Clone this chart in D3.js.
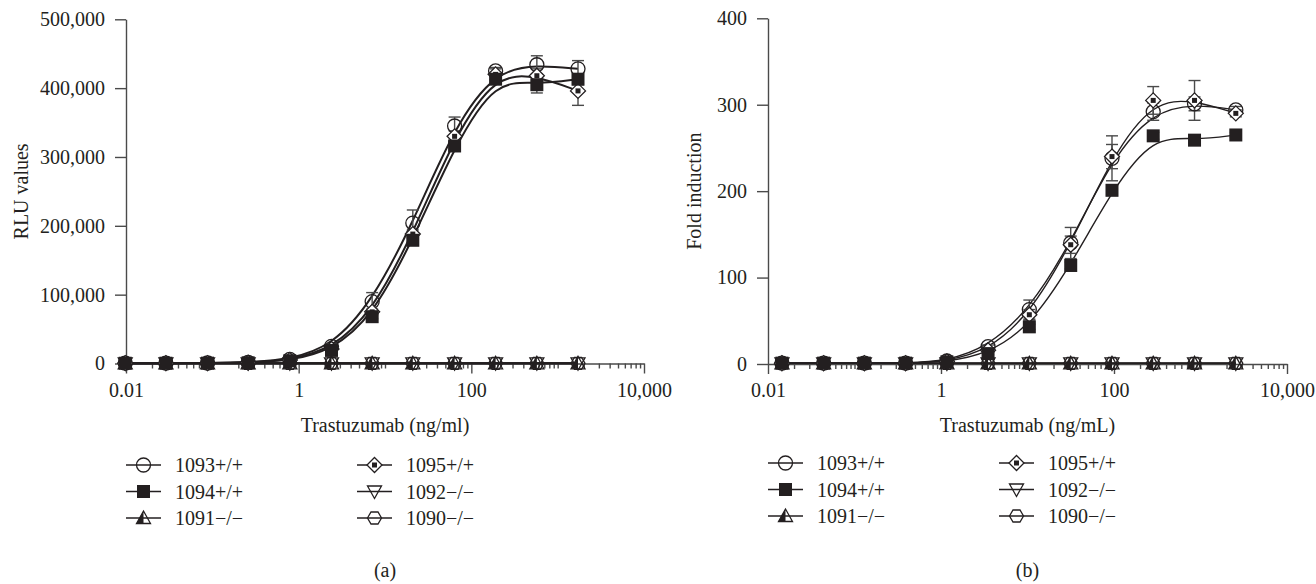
<!DOCTYPE html>
<html>
<head>
<meta charset="utf-8">
<script src="https://cdn.jsdelivr.net/npm/d3@7"></script>
<style>
  body { margin: 0; background: #fff; }
  text { font-family: "Liberation Serif", "DejaVu Serif", serif; fill: #231f20; }
</style>
</head>
<body>
<script>
// =================== Data ======================
const seriesNames = ["1093+/+", "1094+/+", "1091\u2212/\u2212", "1095+/+", "1092\u2212/\u2212", "1090\u2212/\u2212"];

// panel (a): RLU values
const concA   = [0.0098, 0.029, 0.088, 0.26, 0.79, 2.4, 7.1, 21, 64, 191, 574, 1720];
const rlu1093 = [600, 500, 700, 1500, 6000, 25000, 90000, 204000, 345000, 425000, 434000, 428000];
const rlu1094 = [400, 400, 500, 1000, 4000, 19000, 68000, 179000, 316000, 413000, 405000, 413000];
const rlu1091 = [300, 300, 300, 300, 300, 300, 300, 300, 300, 300, 300, 300];
const rlu1095 = [500, 500, 600, 1200, 5000, 21000, 75000, 188000, 330000, 420000, 418000, 396000];
const rlu1092 = [300, 300, 300, 300, 300, 300, 300, 300, 300, 300, 300, 300];
const rlu1090 = [300, 300, 300, 300, 300, 300, 300, 300, 300, 300, 300, 300];
const rluSd1093 = [0, 0, 0, 0, 1000, 3000, 13000, 19000, 13000, 5000, 13000, 12000];
const rluSd1094 = [0, 0, 0, 0, 0, 2000, 3000, 4000, 6000, 6000, 12000, 8000];
const rluSd1095 = [0, 0, 0, 0, 0, 2000, 4000, 6000, 8000, 8000, 10000, 21000];
const rluTicks = [0, 100000, 200000, 300000, 400000, 500000];

// panel (b): fold induction
const concB    = [0.0145, 0.044, 0.13, 0.39, 1.17, 3.5, 10.5, 31.6, 94.8, 284, 853, 2560];
const fold1093 = [1, 1, 1, 1, 3.5, 20, 63, 140, 238, 292, 301, 294];
const fold1094 = [1, 1, 1, 1, 2.5, 12, 43, 114, 201, 264, 259, 265];
const fold1091 = [0.8, 0.8, 0.8, 0.8, 0.8, 0.8, 0.8, 0.8, 0.8, 0.8, 0.8, 0.8];
const fold1095 = [1, 1, 1, 1, 3, 16, 57, 138, 240, 305, 305, 290];
const fold1092 = [0.8, 0.8, 0.8, 0.8, 0.8, 0.8, 0.8, 0.8, 0.8, 0.8, 0.8, 0.8];
const fold1090 = [0.8, 0.8, 0.8, 0.8, 0.8, 0.8, 0.8, 0.8, 0.8, 0.8, 0.8, 0.8];
const foldSd1093 = [0, 0, 0, 0, 0, 2, 11, 18, 26, 10, 8, 4];
const foldSd1094 = [0, 0, 0, 0, 0, 1, 3, 4, 6, 4, 3, 3];
const foldSd1095 = [0, 0, 0, 0, 0, 2, 6, 10, 14, 16, 23, 4];
const foldTicks = [0, 100, 200, 300, 400];

const xMajor = [0.01, 1, 100, 10000];

// =================== Chart ======================
const ink = "#231f20";
const axisInk = "#4a4a4a";
const fontSize = 20;
const shapes = ["circle", "square", "triHalf", "diamond", "triDown", "hexagon"];
// draw negatives first, then circle, diamond, square on top
const drawOrder = [2, 4, 5, 0, 3, 1];

var svg = d3.select("body").append("svg")
    .attr("width", 1316)
    .attr("height", 584);

function marker(g, shape, cx, cy) {
  var m = g.append("g").attr("transform", "translate(" + cx + "," + cy + ")");
  if (shape === "circle") {
    m.append("circle").attr("r", 7).attr("fill", "none").attr("stroke", ink).attr("stroke-width", 1.3);
  } else if (shape === "square") {
    m.append("rect").attr("x", -6.5).attr("y", -6.5).attr("width", 13).attr("height", 13).attr("fill", ink);
  } else if (shape === "diamond") {
    m.append("path").attr("d", "M0,-7.5L7.5,0L0,7.5L-7.5,0Z")
      .attr("fill", "#fff").attr("stroke", ink).attr("stroke-width", 1.3);
    m.append("rect").attr("x", -2.5).attr("y", -2.5).attr("width", 5).attr("height", 5).attr("fill", ink);
  } else if (shape === "triHalf") {
    m.append("path").attr("d", "M0,-7L-7,5.5L0,5.5Z").attr("fill", ink);
    m.append("path").attr("d", "M0,-7L7,5.5L-7,5.5Z")
      .attr("fill", "none").attr("stroke", ink).attr("stroke-width", 1.3);
  } else if (shape === "triDown") {
    m.append("path").attr("d", "M0,7L7,-5.5L-7,-5.5Z")
      .attr("fill", "none").attr("stroke", ink).attr("stroke-width", 1.3);
  } else if (shape === "hexagon") {
    m.append("path").attr("d", "M-7,0L-3.5,-6L3.5,-6L7,0L3.5,6L-3.5,6Z")
      .attr("fill", "none").attr("stroke", ink).attr("stroke-width", 1.3);
  }
}

function drawPanel(p) {
  var x = d3.scaleLog().domain([0.01, 10000]).range([p.left, p.right]);
  var y = d3.scaleLinear().domain([0, p.yMax]).range([p.bottom, p.top]);

  // minor ticks on the log axis
  var minor = [];
  [0.01, 0.1, 1, 10, 100, 1000].forEach(function(dec) {
    for (var k = 1; k <= 9; k++) {
      var v = dec * k;
      if (xMajor.indexOf(v) < 0 && v < 10000) minor.push(v);
    }
  });

  var gMinor = svg.append("g")
      .attr("transform", "translate(0," + p.bottom + ")")
      .call(d3.axisBottom(x).tickValues(minor).tickSize(5).tickFormat(""));
  gMinor.select(".domain").remove();

  var gx = svg.append("g")
      .attr("transform", "translate(0," + p.bottom + ")")
      .call(d3.axisBottom(x).tickValues(xMajor).tickSize(10).tickSizeOuter(0).tickPadding(9)
        .tickFormat(function(d) { return d < 1 ? String(d) : d3.format(",")(d); }));

  var gy = svg.append("g")
      .attr("transform", "translate(" + p.left + ",0)")
      .call(d3.axisLeft(y).tickValues(p.yTicks).tickSize(11).tickSizeOuter(0).tickPadding(10)
        .tickFormat(d3.format(",")));

  svg.selectAll(".tick line, .domain").attr("stroke", axisInk).attr("stroke-width", 1.4);
  [gx, gy].forEach(function(g) {
    g.selectAll("text").attr("font-size", fontSize).attr("font-family", null).attr("fill", ink);
  });

  // axis titles
  svg.append("text")
      .attr("transform", "translate(" + p.yTitleX + "," + ((p.top + p.bottom) / 2) + ") rotate(-90)")
      .attr("text-anchor", "middle").attr("dy", "0.35em")
      .attr("font-size", fontSize).text(p.yTitle);
  svg.append("text")
      .attr("x", (p.left + p.right) / 2).attr("y", 425).attr("dy", "0.35em")
      .attr("text-anchor", "middle").attr("font-size", fontSize).text(p.xTitle);
  svg.append("text")
      .attr("x", (p.left + p.right) / 2).attr("y", 570).attr("dy", "0.35em")
      .attr("text-anchor", "middle").attr("font-size", fontSize).text(p.tag);

  // curves
  var line = d3.line()
      .x(function(d) { return x(d[0]); })
      .y(function(d) { return y(d[1]); })
      .curve(d3.curveBasis);

  drawOrder.forEach(function(i) {
    svg.append("path")
        .datum(p.conc.map(function(c, j) { return [c, p.values[i][j]]; }))
        .attr("fill", "none").attr("stroke", ink)
        .attr("stroke-width", p.lineWidth)
        .attr("d", line);
  });

  // error bars
  drawOrder.forEach(function(i) {
    var sd = p.errors[i];
    if (!sd) return;
    p.conc.forEach(function(c, j) {
      if (!sd[j]) return;
      var cx = x(c), v = p.values[i][j];
      var g = svg.append("g").attr("stroke", axisInk).attr("stroke-width", 1.4);
      g.append("line").attr("x1", cx).attr("x2", cx).attr("y1", y(v - sd[j])).attr("y2", y(v + sd[j]));
      g.append("line").attr("x1", cx - 6).attr("x2", cx + 6).attr("y1", y(v + sd[j])).attr("y2", y(v + sd[j]));
      g.append("line").attr("x1", cx - 6).attr("x2", cx + 6).attr("y1", y(v - sd[j])).attr("y2", y(v - sd[j]));
    });
  });

  // markers
  drawOrder.forEach(function(i) {
    var g = svg.append("g");
    p.conc.forEach(function(c, j) {
      marker(g, shapes[i], x(c), y(p.values[i][j]));
    });
  });

  // legend
  var rowY = [p.legendY, p.legendY + 26.5, p.legendY + 53];
  seriesNames.forEach(function(name, i) {
    var col = Math.floor(i / 3), row = i % 3;
    var lx = p.left + col * 231, ly = rowY[row];
    var g = svg.append("g");
    g.append("line").attr("x1", lx).attr("x2", lx + 35).attr("y1", ly).attr("y2", ly)
        .attr("stroke", ink).attr("stroke-width", 1.5);
    marker(g, shapes[i], lx + 17.5, ly);
    g.append("text").attr("x", lx + 49).attr("y", ly).attr("dy", "0.35em")
        .attr("font-size", fontSize).text(name);
  });
}

drawPanel({
  left: 126, right: 644, top: 19.3, bottom: 363.5,
  yMax: 500000, yTicks: rluTicks, yTitle: "RLU values", yTitleX: 21,
  xTitle: "Trastuzumab (ng/ml)", tag: "(a)",
  conc: concA,
  values: [rlu1093, rlu1094, rlu1091, rlu1095, rlu1092, rlu1090],
  errors: [rluSd1093, rluSd1094, null, rluSd1095, null, null],
  lineWidth: 2, legendY: 465
});

drawPanel({
  left: 768, right: 1287, top: 18.3, bottom: 364,
  yMax: 400, yTicks: foldTicks, yTitle: "Fold induction", yTitleX: 694,
  xTitle: "Trastuzumab (ng/mL)", tag: "(b)",
  conc: concB,
  values: [fold1093, fold1094, fold1091, fold1095, fold1092, fold1090],
  errors: [foldSd1093, foldSd1094, null, foldSd1095, null, null],
  lineWidth: 1.4, legendY: 463
});
</script>
</body>
</html>
